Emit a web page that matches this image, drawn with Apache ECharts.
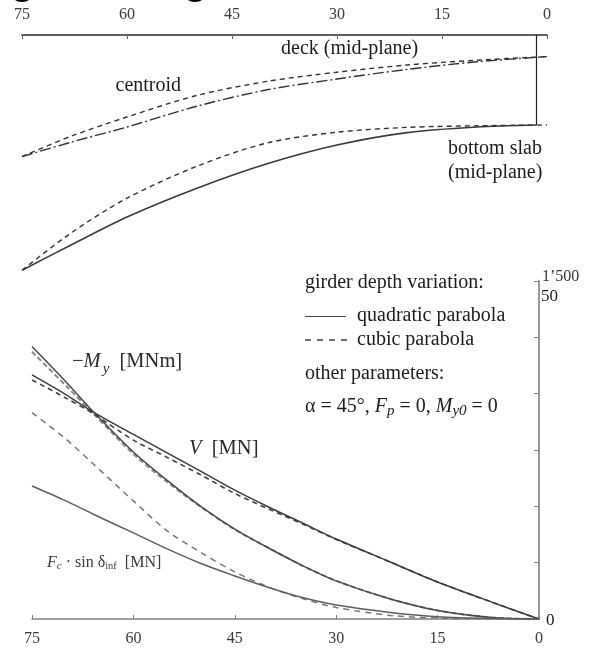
<!DOCTYPE html>
<html>
<head>
<meta charset="utf-8">
<style>html,body{margin:0;padding:0;background:#fff}#c{width:599px;height:650px}</style>
<script src="https://cdn.jsdelivr.net/npm/echarts@6/dist/echarts.min.js"></script>
</head>
<body>
<div id="c"></div>
<script>
// ---- top panel: girder geometry (station, depth below reference)
const geoStations = [75, 68, 60, 50, 40, 30, 20, 10, 0];
const deckCubic = [3.04, 2.53, 2.05, 1.51, 1.16, 0.93, 0.75, 0.63, 0.54];
const centroid = [3.04, 2.68, 2.3, 1.78, 1.37, 1.1, 0.86, 0.67, 0.54];
const bottomCubic = [5.88, 4.95, 4.08, 3.28, 2.7, 2.43, 2.31, 2.27, 2.25];
const bottomQuadStations = [75, 68, 60, 50, 40, 30, 20, 10, 1.5];
const bottomQuad = [5.88, 5.25, 4.55, 3.83, 3.22, 2.75, 2.44, 2.3, 2.25];
const supportStation = [1.5, 1.5];
const supportDepth = [0, 2.25];

// ---- bottom panel: internal forces
const forceStations = [75, 70, 66, 60, 55, 50, 45, 40, 35, 30, 22, 15, 7, 0];
const MyQuad = [1209, 1053, 922, 741, 615, 499, 399, 315, 237, 169, 89, 38, 7, 0];
const MyCubic = [1186, 1036, 914, 732, 608, 497, 397, 315, 237, 169, 89, 38, 7, 0];
const VQuad = [1083, 996, 919, 819, 737, 655, 572, 497, 426, 355, 253, 164, 75, 0];
const VCubic = [1061, 981, 912, 794, 717, 639, 557, 488, 422, 353, 253, 164, 75, 0];
const FcQuad = [590, 524, 466, 382, 311, 246, 191, 140, 95, 62, 29, 10, 2, 0];
const FcCubic = [916, 799, 690, 524, 391, 295, 209, 142, 91, 51, 16, 4, 1, 0];

const stationTicks = 15;
const forceTickStep = 250;
const forceMax = 1500;
const altScaleMax = 50;

const FONT = '"Liberation Serif", "Times New Roman", serif';
const pair = (xs, ys) => xs.map((x, i) => [x, ys[i]]);

function line(name, xs, ys, xAxisIndex, yAxisIndex, color, width, dash, smooth) {
  return {
    name, type: 'line', xAxisIndex, yAxisIndex, data: pair(xs, ys),
    showSymbol: false, symbol: 'none', smooth: smooth === undefined ? 0.3 : smooth,
    silent: true, lineStyle: { color, width, type: dash || 'solid' }
  };
}
function txt(x, y, text, size, extra) {
  return {
    type: 'text', x, y, silent: true,
    style: Object.assign({ text, fill: '#1c1c1c', font: size + 'px ' + FONT, verticalAlign: 'middle', align: 'left' }, extra || {})
  };
}
const stationAxis = (gridIndex, position, lineColor, lineWidth, margin) => ({
  type: 'value', gridIndex, position, inverse: true, min: 0, max: 75, interval: stationTicks,
  splitLine: { show: false },
  axisLine: { show: true, onZero: false, lineStyle: { color: lineColor, width: lineWidth } },
  axisTick: { show: true, inside: true, length: 4, lineStyle: { color: lineColor, width: 1 } },
  axisLabel: { margin, color: '#3a3a3a', fontFamily: FONT, fontSize: 16, showMinLabel: true, showMaxLabel: true }
});

const option = {
  animation: false,
  backgroundColor: '#fff',
  grid: [
    { left: 22, right: 52, top: 35, height: 240 },
    { left: 32, right: 60, top: 281, height: 338 }
  ],
  xAxis: [stationAxis(0, 'top', '#5f5f5f', 2, 12), stationAxis(1, 'bottom', '#808080', 1.5, 12)],
  yAxis: [
    { type: 'value', gridIndex: 0, inverse: true, min: 0, max: 6, show: false },
    {
      type: 'value', gridIndex: 1, position: 'right', min: 0, max: forceMax, interval: forceTickStep,
      splitLine: { show: false },
      axisLine: { show: true, onZero: false, lineStyle: { color: '#999', width: 2 } },
      axisTick: { show: true, inside: true, length: 5, lineStyle: { color: '#888', width: 1 } },
      axisLabel: {
        margin: 3, color: '#333', fontFamily: FONT, fontSize: 16,
        customValues: [0, forceMax],
        formatter: v => v === 0 ? '{z|0}' : '{t|1’500}',
        rich: {
          z: { fontFamily: FONT, fontSize: 17, color: '#222', padding: [3, 0, 0, 4] },
          t: { fontFamily: FONT, fontSize: 16, color: '#333', padding: [0, 0, 9, 0] }
        }
      }
    },
    {
      type: 'value', gridIndex: 1, position: 'right', min: 0, max: altScaleMax,
      splitLine: { show: false }, axisLine: { show: false }, axisTick: { show: false },
      axisLabel: {
        margin: 2, fontFamily: FONT, fontSize: 16, customValues: [altScaleMax],
        formatter: v => '{a|' + v + '}',
        rich: { a: { fontFamily: FONT, fontSize: 17, color: '#222', padding: [31, 0, 0, 0] } }
      }
    }
  ],
  series: [
    line('support', supportStation, supportDepth, 0, 0, '#222', 1.2, 'solid', false),
    line('deck cubic', geoStations, deckCubic, 0, 0, '#333', 1.4, [5, 4]),
    line('centroid', geoStations, centroid, 0, 0, '#333', 1.4, [11, 3, 2, 3]),
    line('bottom cubic', geoStations, bottomCubic, 0, 0, '#333', 1.4, [5, 4]),
    line('bottom quad', bottomQuadStations, bottomQuad, 0, 0, '#3a3a3a', 1.6),
    line('My cubic', forceStations, MyCubic, 1, 1, '#888', 2, [5, 3]),
    line('My quad', forceStations, MyQuad, 1, 1, '#4a4a4a', 1.5),
    line('V cubic', forceStations, VCubic, 1, 1, '#444', 1.6, [5, 4]),
    line('V quad', forceStations, VQuad, 1, 1, '#3c3c3c', 1.5),
    line('Fc cubic', forceStations, FcCubic, 1, 1, '#777', 1.5, [6, 5]),
    line('Fc quad', forceStations, FcQuad, 1, 1, '#5e5e5e', 1.5)
  ],
  graphic: { elements: [
    { type: 'ellipse', silent: true, shape: { cx: 22, cy: -2, rx: 8, ry: 4 }, style: { fill: '#000' } },
    { type: 'ellipse', silent: true, shape: { cx: 195, cy: -2, rx: 8, ry: 4 }, style: { fill: '#000' } },

    txt(281, 49, 'deck (mid-plane)', 20),
    txt(115.5, 86, 'centroid', 20),
    txt(448, 149, 'bottom slab', 20),
    txt(448, 173, '(mid-plane)', 20),

    txt(305, 283, 'girder depth variation:', 20),
    { type: 'line', silent: true, shape: { x1: 305, y1: 316.5, x2: 346, y2: 316.5 }, style: { stroke: '#444', lineWidth: 1 } },
    txt(357, 316, 'quadratic parabola', 20),
    { type: 'line', silent: true, shape: { x1: 305, y1: 340, x2: 347, y2: 340 }, style: { stroke: '#222', lineWidth: 1.3, lineDash: [6, 6] } },
    txt(357, 340, 'cubic parabola', 20),
    txt(305, 374, 'other parameters:', 20),
    txt(305, 407, '{n|α = 45°, }{i|F}{s|p}{n| = 0, }{i|M}{s|y0}{n| = 0}', 20, {
      rich: {
        n: { font: '20px ' + FONT, fill: '#1c1c1c' },
        i: { font: 'italic 20px ' + FONT, fill: '#1c1c1c' },
        s: { font: 'italic 15px ' + FONT, fill: '#1c1c1c', padding: [9, 0, 0, 0] }
      }
    }),

    txt(72, 362, '{n|−}{i|M}{s|y}{n|  [MNm]}', 20, {
      rich: {
        n: { font: '20.5px ' + FONT, fill: '#2a2a2a' },
        i: { font: 'italic 20.5px ' + FONT, fill: '#2a2a2a' },
        s: { font: 'italic 15px ' + FONT, fill: '#2a2a2a', padding: [14, 0, 0, 2] }
      }
    }),
    txt(189, 449, '{i|V}{n|  [MN]}', 20, {
      rich: {
        n: { font: '20.5px ' + FONT, fill: '#2a2a2a' },
        i: { font: 'italic 20.5px ' + FONT, fill: '#2a2a2a' }
      }
    }),
    txt(47, 563, '{i|F}{s|c}{n| · sin δ}{b|inf}{n|  [MN]}', 16, {
      rich: {
        n: { font: '16px ' + FONT, fill: '#3a3a3a' },
        i: { font: 'italic 16px ' + FONT, fill: '#3a3a3a' },
        s: { font: 'italic 11px ' + FONT, fill: '#3a3a3a', padding: [7, 0, 0, 0] },
        b: { font: '10.5px ' + FONT, fill: '#3a3a3a', padding: [7, 0, 0, 0] }
      }
    })
  ] }
};
echarts.init(document.getElementById('c'), null, { renderer: 'canvas' }).setOption(option);
</script>
</body>
</html>
